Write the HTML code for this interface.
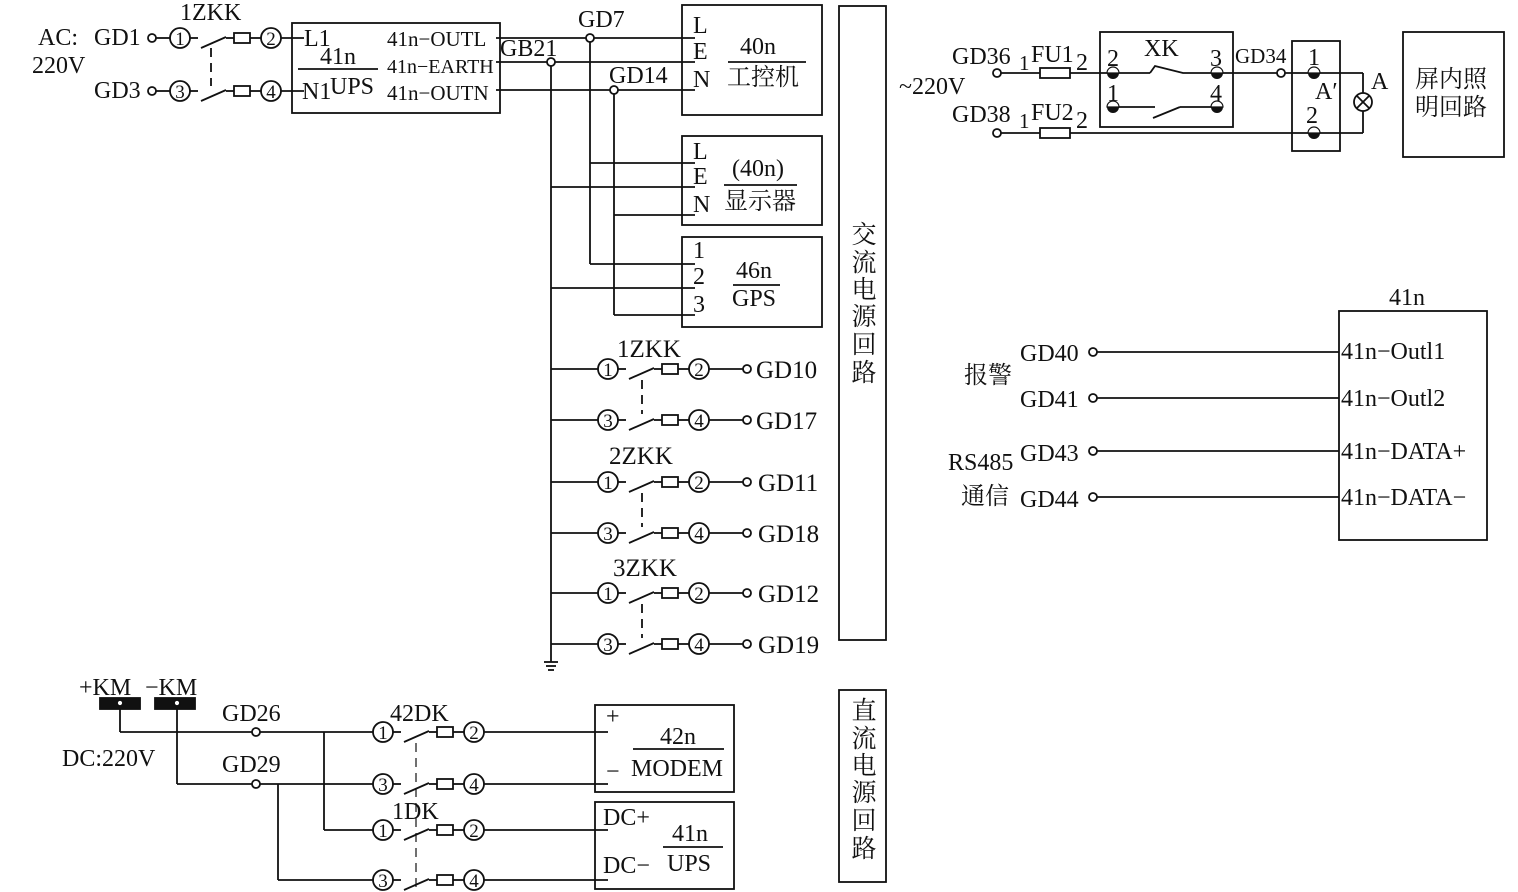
<!DOCTYPE html>
<html><head><meta charset="utf-8"><style>
html,body{margin:0;padding:0;background:#fff;}
svg{display:block;}
text{font-family:"Liberation Serif","Noto Serif CJK SC",serif;fill:#111;}
.c{font-size:19px;text-anchor:middle;}
</style></head><body>
<svg width="1518" height="892" viewBox="0 0 1518 892" xmlns="http://www.w3.org/2000/svg" stroke="#111" stroke-width="1.8" fill="none">
<defs>
<g id="sw">
<line x1="10" y1="0" x2="18" y2="0"/>
<line x1="21" y1="10" x2="46" y2="-1"/>
<line x1="46" y1="0" x2="54" y2="0"/>
<rect x="54" y="-5" width="16" height="10"/>
<line x1="70" y1="0" x2="81" y2="0"/>
<circle cx="0" cy="0" r="10"/>
<circle cx="91" cy="0" r="10"/>
</g>
</defs>

<!-- top-left AC input -->
<g font-size="24" stroke="none" fill="#111">
<text x="38" y="45">AC:</text>
<text x="94" y="45">GD1</text>
<text x="32" y="73">220V</text>
<text x="94" y="98">GD3</text>
<text x="180" y="20">1ZKK</text>
</g>
<circle cx="152" cy="38" r="4"/><line x1="156" y1="38" x2="170" y2="38"/>
<circle cx="152" cy="91" r="4"/><line x1="156" y1="91" x2="170" y2="91"/>
<use href="#sw" x="180" y="38"/>
<use href="#sw" x="180" y="91"/>
<line x1="211" y1="48" x2="211" y2="86" stroke-dasharray="9,6"/>
<g stroke="none" fill="#111">
<text class="c" x="180" y="45">1</text><text class="c" x="271" y="45">2</text>
<text class="c" x="180" y="98">3</text><text class="c" x="271" y="98">4</text>
</g>
<line x1="281" y1="38" x2="304" y2="38"/>
<line x1="281" y1="91" x2="304" y2="91"/>
<rect x="292" y="23" width="208" height="90"/>
<line x1="298" y1="69" x2="378" y2="69"/>
<g stroke="none" fill="#111" font-size="24">
<text x="304" y="46">L1</text>
<text x="320" y="64">41n</text>
<text x="302" y="99">N1</text>
<text x="330" y="94">UPS</text>
<text x="387" y="46" font-size="21">41n−OUTL</text>
<text x="387" y="73" font-size="20">41n−EARTH</text>
<text x="387" y="100" font-size="21">41n−OUTN</text>
</g>

<!-- distribution -->
<line x1="496" y1="38" x2="695" y2="38"/>
<line x1="496" y1="62" x2="695" y2="62"/>
<line x1="496" y1="90" x2="695" y2="90"/>
<circle cx="590" cy="38" r="4" fill="#fff"/>
<circle cx="551" cy="62" r="4" fill="#fff"/>
<circle cx="614" cy="90" r="4" fill="#fff"/>
<line x1="590" y1="42" x2="590" y2="264"/>
<line x1="551" y1="66" x2="551" y2="662"/>
<line x1="614" y1="94" x2="614" y2="315"/>
<line x1="544" y1="662" x2="558" y2="662"/><line x1="546" y1="666" x2="556" y2="666"/><line x1="548" y1="670" x2="554" y2="670"/>
<g stroke="none" fill="#111" font-size="24">
<text x="578" y="27">GD7</text>
<text x="500" y="56">GB21</text>
<text x="609" y="83">GD14</text>
</g>
<line x1="590" y1="163" x2="695" y2="163"/>
<line x1="551" y1="187" x2="695" y2="187"/>
<line x1="614" y1="215" x2="695" y2="215"/>
<line x1="590" y1="264" x2="695" y2="264"/>
<line x1="551" y1="288" x2="695" y2="288"/>
<line x1="614" y1="315" x2="695" y2="315"/>
<rect x="682" y="5" width="140" height="110"/>
<rect x="682" y="136" width="140" height="89"/>
<rect x="682" y="237" width="140" height="90"/>
<line x1="728" y1="62" x2="806" y2="62"/>
<line x1="724" y1="185" x2="797" y2="185"/>
<line x1="733" y1="285" x2="780" y2="285"/>
<g stroke="none" fill="#111" font-size="24">
<text x="693" y="33">L</text><text x="693" y="59">E</text><text x="693" y="87">N</text>
<text x="740" y="54">40n</text>
<text x="727" y="85" font-family="Noto Serif CJK SC, serif">工控机</text>
<text x="693" y="159">L</text><text x="693" y="184">E</text><text x="693" y="212">N</text>
<text x="732" y="176">(40n)</text>
<text x="724" y="209" font-family="Noto Serif CJK SC, serif">显示器</text>
<text x="693" y="258">1</text><text x="693" y="284">2</text><text x="693" y="312">3</text>
<text x="736" y="278">46n</text>
<text x="732" y="306">GPS</text>
</g>

<!-- AC branches -->
<line x1="551" y1="369" x2="598" y2="369"/><line x1="551" y1="420" x2="598" y2="420"/>
<line x1="551" y1="482" x2="598" y2="482"/><line x1="551" y1="533" x2="598" y2="533"/>
<line x1="551" y1="593" x2="598" y2="593"/><line x1="551" y1="644" x2="598" y2="644"/>
<use href="#sw" x="608" y="369"/><use href="#sw" x="608" y="420"/>
<use href="#sw" x="608" y="482"/><use href="#sw" x="608" y="533"/>
<use href="#sw" x="608" y="593"/><use href="#sw" x="608" y="644"/>
<line x1="642" y1="380" x2="642" y2="414" stroke-dasharray="9,6"/>
<line x1="642" y1="493" x2="642" y2="527" stroke-dasharray="9,6"/>
<line x1="642" y1="604" x2="642" y2="638" stroke-dasharray="9,6"/>
<line x1="709" y1="369" x2="743" y2="369"/><circle cx="747" cy="369" r="4"/>
<line x1="709" y1="420" x2="743" y2="420"/><circle cx="747" cy="420" r="4"/>
<line x1="709" y1="482" x2="743" y2="482"/><circle cx="747" cy="482" r="4"/>
<line x1="709" y1="533" x2="743" y2="533"/><circle cx="747" cy="533" r="4"/>
<line x1="709" y1="593" x2="743" y2="593"/><circle cx="747" cy="593" r="4"/>
<line x1="709" y1="644" x2="743" y2="644"/><circle cx="747" cy="644" r="4"/>
<g stroke="none" fill="#111">
<text class="c" x="608" y="376">1</text><text class="c" x="699" y="376">2</text>
<text class="c" x="608" y="427">3</text><text class="c" x="699" y="427">4</text>
<text class="c" x="608" y="489">1</text><text class="c" x="699" y="489">2</text>
<text class="c" x="608" y="540">3</text><text class="c" x="699" y="540">4</text>
<text class="c" x="608" y="600">1</text><text class="c" x="699" y="600">2</text>
<text class="c" x="608" y="651">3</text><text class="c" x="699" y="651">4</text>
<g font-size="25">
<text x="756" y="378">GD10</text><text x="756" y="429">GD17</text>
<text x="758" y="491">GD11</text><text x="758" y="542">GD18</text>
<text x="758" y="602">GD12</text><text x="758" y="653">GD19</text>
<text x="617" y="357">1ZKK</text>
<text x="609" y="464">2ZKK</text>
<text x="613" y="576">3ZKK</text>
</g>
</g>

<!-- vertical labels -->
<rect x="839" y="6" width="47" height="634"/>
<rect x="839" y="690" width="47" height="192"/>
<g stroke="none" fill="#111" font-size="25" font-family="Noto Serif CJK SC, serif" text-anchor="middle">
<text x="864" y="243">交</text><text x="864" y="271">流</text><text x="864" y="298">电</text>
<text x="864" y="325">源</text><text x="864" y="353">回</text><text x="864" y="381">路</text>
<text x="864" y="719">直</text><text x="864" y="747">流</text><text x="864" y="774">电</text>
<text x="864" y="801">源</text><text x="864" y="829">回</text><text x="864" y="857">路</text>
</g>

<!-- DC -->
<rect x="100" y="698" width="40" height="11" fill="#111"/>
<rect x="155" y="698" width="40" height="11" fill="#111"/>
<circle cx="120" cy="703" r="3" fill="#fff"/>
<circle cx="177" cy="703" r="3" fill="#fff"/>
<line x1="120" y1="706" x2="120" y2="732"/>
<line x1="120" y1="732" x2="373" y2="732"/>
<line x1="177" y1="706" x2="177" y2="784"/>
<line x1="177" y1="784" x2="373" y2="784"/>
<circle cx="256" cy="732" r="4" fill="#fff"/>
<circle cx="256" cy="784" r="4" fill="#fff"/>
<line x1="324" y1="732" x2="324" y2="830"/><line x1="324" y1="830" x2="373" y2="830"/>
<line x1="278" y1="784" x2="278" y2="880"/><line x1="278" y1="880" x2="373" y2="880"/>
<use href="#sw" x="383" y="732"/><use href="#sw" x="383" y="784"/>
<use href="#sw" x="383" y="830"/><use href="#sw" x="383" y="880"/>
<line x1="416" y1="743" x2="416" y2="890" stroke-dasharray="9,6" stroke-width="1.2"/>
<line x1="484" y1="732" x2="608" y2="732"/>
<line x1="484" y1="784" x2="608" y2="784"/>
<line x1="484" y1="830" x2="608" y2="830"/>
<line x1="484" y1="880" x2="608" y2="880"/>
<rect x="595" y="705" width="139" height="87"/>
<rect x="595" y="802" width="139" height="87"/>
<line x1="633" y1="749" x2="724" y2="749"/>
<line x1="663" y1="847" x2="723" y2="847"/>
<g stroke="none" fill="#111">
<text class="c" x="383" y="739">1</text><text class="c" x="474" y="739">2</text>
<text class="c" x="383" y="791">3</text><text class="c" x="474" y="791">4</text>
<text class="c" x="383" y="837">1</text><text class="c" x="474" y="837">2</text>
<text class="c" x="383" y="887">3</text><text class="c" x="474" y="887">4</text>
<g font-size="24">
<text x="79" y="695">+KM</text><text x="145" y="695">−KM</text>
<text x="222" y="721">GD26</text><text x="222" y="772">GD29</text>
<text x="62" y="766">DC:220V</text>
<text x="390" y="721">42DK</text>
<text x="392" y="819">1DK</text>
<text x="606" y="724">+</text><text x="606" y="779">−</text>
<text x="660" y="744">42n</text>
<text x="631" y="776">MODEM</text>
<text x="603" y="825">DC+</text>
<text x="603" y="873">DC−</text>
<text x="672" y="841">41n</text>
<text x="667" y="871">UPS</text>
</g>
</g>

<!-- lighting -->
<circle cx="997" cy="73" r="4"/><circle cx="997" cy="133" r="4"/>
<line x1="1001" y1="73" x2="1040" y2="73"/><rect x="1040" y="68" width="30" height="10"/>
<line x1="1070" y1="73" x2="1150" y2="73"/>
<path d="M1150 73 L1155 66 L1183 73 L1281 73"/>
<line x1="1001" y1="133" x2="1040" y2="133"/><rect x="1040" y="128" width="30" height="10"/>
<line x1="1070" y1="133" x2="1363" y2="133"/>
<line x1="1113" y1="107" x2="1155" y2="107"/>
<line x1="1153" y1="118" x2="1180" y2="107"/>
<line x1="1180" y1="107" x2="1217" y2="107"/>
<rect x="1100" y="32" width="133" height="95"/>
<circle cx="1281" cy="73" r="4" fill="#fff"/>
<line x1="1285" y1="73" x2="1363" y2="73"/>
<line x1="1363" y1="73" x2="1363" y2="93"/>
<line x1="1363" y1="111" x2="1363" y2="133"/>
<circle cx="1363" cy="102" r="9"/>
<line x1="1357" y1="96" x2="1369" y2="108"/><line x1="1369" y1="96" x2="1357" y2="108"/>
<rect x="1292" y="41" width="48" height="110"/>
<rect x="1403" y="32" width="101" height="125"/>
<g stroke="none" fill="#111">
<path d="M1107 73 a6 6 0 0 1 12 0z" fill="#fff" stroke="#111" stroke-width="1.2"/><path d="M1107 73 a6 6 0 0 0 12 0z"/>
<path d="M1211 73 a6 6 0 0 1 12 0z" fill="#fff" stroke="#111" stroke-width="1.2"/><path d="M1211 73 a6 6 0 0 0 12 0z"/>
<path d="M1107 107 a6 6 0 0 1 12 0z" fill="#fff" stroke="#111" stroke-width="1.2"/><path d="M1107 107 a6 6 0 0 0 12 0z"/>
<path d="M1211 107 a6 6 0 0 1 12 0z" fill="#fff" stroke="#111" stroke-width="1.2"/><path d="M1211 107 a6 6 0 0 0 12 0z"/>
<path d="M1308 73 a6 6 0 0 1 12 0z" fill="#fff" stroke="#111" stroke-width="1.2"/><path d="M1308 73 a6 6 0 0 0 12 0z"/>
<path d="M1308 133 a6 6 0 0 1 12 0z" fill="#fff" stroke="#111" stroke-width="1.2"/><path d="M1308 133 a6 6 0 0 0 12 0z"/>
<g font-size="24">
<text x="952" y="64">GD36</text><text x="1019" y="70" font-size="21">1</text><text x="1031" y="62">FU1</text><text x="1076" y="70">2</text>
<text x="899" y="94">~220V</text>
<text x="952" y="122">GD38</text><text x="1019" y="128" font-size="21">1</text><text x="1031" y="120">FU2</text><text x="1076" y="128">2</text>
<text x="1107" y="66">2</text><text x="1144" y="56">XK</text><text x="1210" y="66">3</text>
<text x="1107" y="101">1</text><text x="1210" y="101">4</text>
<text x="1235" y="63" font-size="21">GD34</text>
<text x="1308" y="65">1</text><text x="1315" y="99">A′</text><text x="1306" y="123">2</text>
<text x="1371" y="89">A</text>
<text x="1415" y="87" font-family="Noto Serif CJK SC, serif" font-size="24">屏内照</text>
<text x="1415" y="115" font-family="Noto Serif CJK SC, serif" font-size="24">明回路</text>
</g>
</g>

<!-- 41n signals -->
<rect x="1339" y="311" width="148" height="229"/>
<circle cx="1093" cy="352" r="4"/><line x1="1097" y1="352" x2="1339" y2="352"/>
<circle cx="1093" cy="398" r="4"/><line x1="1097" y1="398" x2="1339" y2="398"/>
<circle cx="1093" cy="451" r="4"/><line x1="1097" y1="451" x2="1339" y2="451"/>
<circle cx="1093" cy="497" r="4"/><line x1="1097" y1="497" x2="1339" y2="497"/>
<g stroke="none" fill="#111" font-size="24">
<text x="1389" y="305">41n</text>
<text x="1020" y="361">GD40</text><text x="1020" y="407">GD41</text>
<text x="1020" y="461">GD43</text><text x="1020" y="507">GD44</text>
<text x="964" y="383" font-family="Noto Serif CJK SC, serif">报警</text>
<text x="948" y="470">RS485</text>
<text x="961" y="504" font-family="Noto Serif CJK SC, serif">通信</text>
<text x="1341" y="359">41n−Outl1</text>
<text x="1341" y="406">41n−Outl2</text>
<text x="1341" y="459">41n−DATA+</text>
<text x="1341" y="505">41n−DATA−</text>
</g>
</svg>
</body></html>
